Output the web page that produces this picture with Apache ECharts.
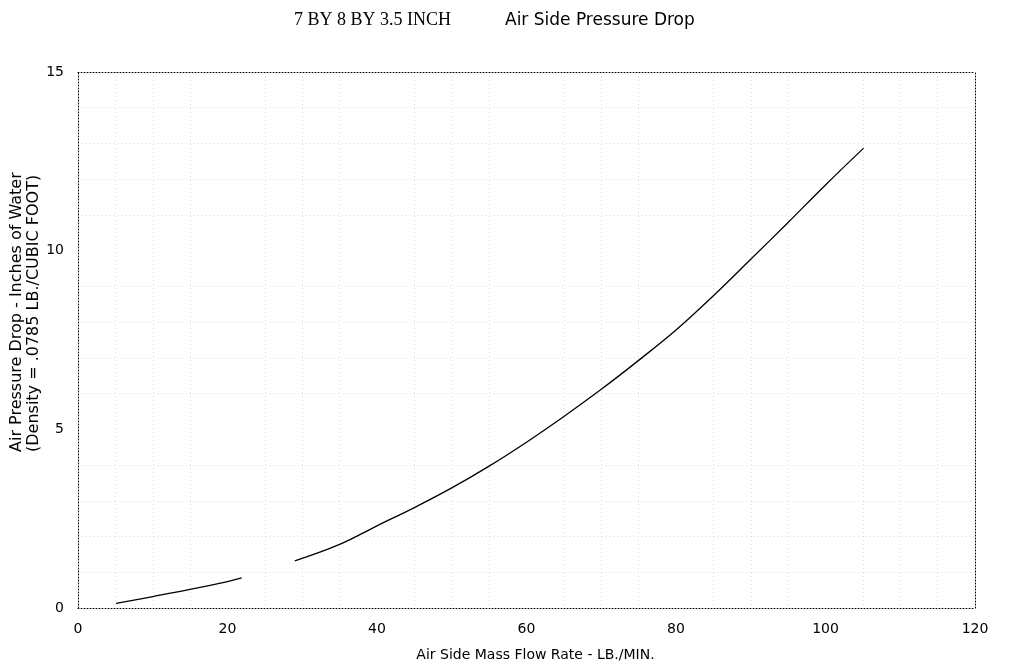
<!DOCTYPE html>
<html>
<head>
<meta charset="utf-8">
<script src="https://cdn.jsdelivr.net/npm/echarts@6/dist/echarts.min.js"></script>
<style>
  html, body { margin: 0; padding: 0; background: #fff; }
  #chart { width: 1024px; height: 672px; }
</style>
</head>
<body>
<div id="chart"></div>
<script>
// data (lb/min, inches of water)
const flowRate = [5.1, 10, 15, 20, 21.9, null, 29, 35, 40, 45, 50, 55, 60, 65, 70, 75, 80, 85, 90, 95, 100, 105.1];
const pressureDrop = [0.13, 0.32, 0.52, 0.74, 0.84, null, 1.32, 1.78, 2.30, 2.81, 3.36, 3.97, 4.64, 5.36, 6.12, 6.93, 7.78, 8.74, 9.76, 10.79, 11.84, 12.87];
const xTicks = [0, 20, 40, 60, 80, 100, 120];
const yTicks = [0, 5, 10, 15];

(function () {
    let myChart = echarts.init(document.getElementById("chart"));
    const sans = "DejaVu Sans";
    const points = flowRate.map(function (x, i) {
        return x === null ? [null, null] : [x, pressureDrop[i]];
    });
    const dotted = { color: "#000", width: 1, type: [1, 2] };
    const minorGrid = { lineStyle: { color: "#dcdcdc", width: 1, type: [1, 3] } };

    let option = {
        backgroundColor: "#fff",
        animation: false,
        title: [
            {
                text: "7 BY 8 BY 3.5 INCH",
                left: 289,
                top: 6,
                textStyle: { fontFamily: "Liberation Serif", fontSize: 18, fontWeight: "normal", color: "#000" }
            },
            {
                text: "Air Side Pressure Drop",
                left: 500,
                top: 7,
                textStyle: { fontFamily: sans, fontSize: 17, fontWeight: "normal", color: "#000" }
            }
        ],
        grid: { left: 78, right: 49, top: 72, bottom: 64 },
        xAxis: [
            {
                type: "value",
                min: xTicks[0],
                max: xTicks[xTicks.length - 1],
                interval: 20,
                name: "Air Side Mass Flow Rate - LB./MIN.",
                nameLocation: "middle",
                nameGap: 40,
                nameTextStyle: { fontFamily: sans, fontSize: 14, color: "#000", padding: [0, 0, 0, 18] },
                axisLine: { show: true, lineStyle: dotted },
                axisTick: { show: false },
                axisLabel: { fontFamily: sans, fontSize: 14, color: "#000", margin: 14 },
                splitLine: { show: false },
                minorTick: { show: false, splitNumber: 4 },
                minorSplitLine: Object.assign({ show: true }, minorGrid)
            },
            {
                type: "value",
                position: "top",
                min: xTicks[0],
                max: xTicks[xTicks.length - 1],
                interval: 20,
                axisLine: { show: true, onZero: false, lineStyle: dotted },
                axisTick: { show: false },
                axisLabel: { show: false },
                splitLine: { show: false }
            }
        ],
        yAxis: [
            {
                type: "value",
                min: yTicks[0],
                max: yTicks[yTicks.length - 1],
                interval: 5,
                axisLine: { show: true, lineStyle: dotted },
                axisTick: { show: false },
                axisLabel: { fontFamily: sans, fontSize: 14, color: "#000", margin: 14 },
                splitLine: { show: false },
                minorTick: { show: false, splitNumber: 5 },
                minorSplitLine: Object.assign({ show: true }, minorGrid)
            },
            {
                type: "value",
                position: "right",
                min: yTicks[0],
                max: yTicks[yTicks.length - 1],
                interval: 5,
                axisLine: { show: true, onZero: false, lineStyle: dotted },
                axisTick: { show: false },
                axisLabel: { show: false },
                splitLine: { show: false }
            }
        ],
        graphic: [
            {
                type: "text",
                x: 9,
                y: 452,
                rotation: Math.PI / 2,
                style: {
                    text: "Air Pressure Drop - Inches of Water",
                    font: "16px 'DejaVu Sans'",
                    fill: "#000",
                    textAlign: "left",
                    textVerticalAlign: "top"
                }
            },
            {
                type: "text",
                x: 26,
                y: 452,
                rotation: Math.PI / 2,
                style: {
                    text: "(Density = .0785 LB./CUBIC FOOT)",
                    font: "16px 'DejaVu Sans'",
                    fill: "#000",
                    textAlign: "left",
                    textVerticalAlign: "top"
                }
            }
        ],
        series: [
            {
                name: "Pressure Drop",
                type: "line",
                data: points,
                smooth: 0.4,
                connectNulls: false,
                showSymbol: false,
                lineStyle: { color: "#000", width: 1.3 }
            }
        ]
    };
    myChart.setOption(option);
    window.addEventListener("resize", function () {
        myChart.resize();
    });
})();
</script>
</body>
</html>
